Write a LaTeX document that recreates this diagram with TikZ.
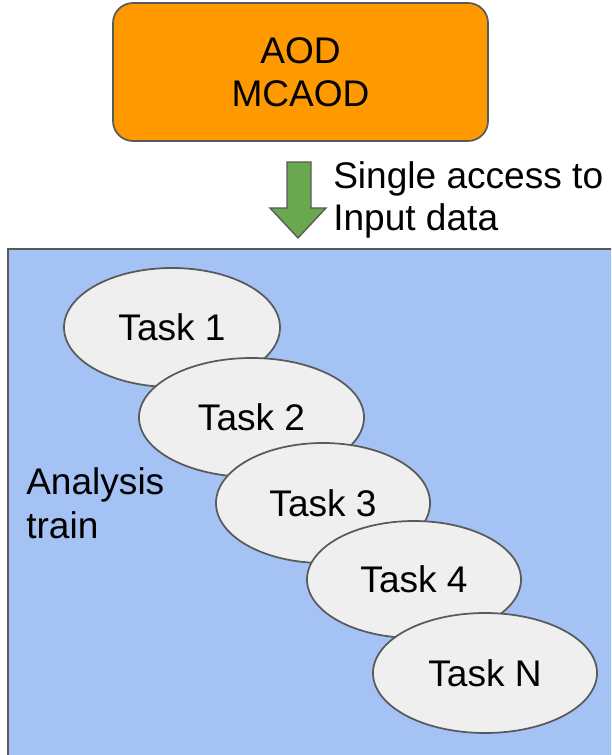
\documentclass[tikz,border=0pt]{standalone}
\usepackage{fontspec}
\setmainfont{Liberation Sans}
\usetikzlibrary{shapes.geometric}
\definecolor{srcfill}{HTML}{FF9900}
\definecolor{trainfill}{HTML}{A4C2F4}
\definecolor{taskfill}{HTML}{EFEFEF}
\definecolor{arrowfill}{HTML}{6AA84F}
\definecolor{edgegray}{HTML}{595959}
\begin{document}
\begin{tikzpicture}[x=0.75pt,y=-0.75pt,
  bigfont/.style={font=\fontsize{27.8}{32.5}\selectfont},
  outline/.style={draw=edgegray, line width=1.3pt},
  task/.style={ellipse, outline, fill=taskfill, inner sep=0pt, bigfont},
  srcbox/.style={rectangle, rounded corners=15pt, outline, fill=srcfill, inner sep=0pt, align=center, bigfont},
  plainlabel/.style={inner sep=0pt, align=left, bigfont, anchor=north west}]
\useasboundingbox (0,0) rectangle (611,755);
\clip (0,0) rectangle (611,755);
% analysis train area
\draw[outline, fill=trainfill] (8,249) rectangle (650,800);
% source box
\node[srcbox, minimum width=281.25pt, minimum height=103.5pt] (src) at (300.5,72) {AOD\\MCAOD};
% green arrow
\coordinate (arrtop) at (299,162);
\draw[outline, line width=1pt, fill=arrowfill]
  ([xshift=-9pt]arrtop) -- ([xshift=9pt]arrtop) -- ([xshift=9pt,yshift=-34.5pt]arrtop)
  -- ([xshift=20.25pt,yshift=-34.5pt]arrtop) -- ([xshift=-0.75pt,yshift=-57pt]arrtop)
  -- ([xshift=-21.75pt,yshift=-34.5pt]arrtop) -- ([xshift=-9pt,yshift=-34.5pt]arrtop) -- cycle;
\node[plainlabel, font=\fontsize{27.8}{31.5}\selectfont] (access) at (333,161) {Single access to\\Input data};
% label of train
\node[plainlabel, font=\fontsize{27.8}{33}\selectfont] (trainlabel) at (26,467) {Analysis\\train};
% tasks
\node[task, minimum width=162pt, minimum height=89.25pt] (t1) at (172,327.5) {Task 1};
\node[task, minimum width=168.75pt, minimum height=89.25pt] (t2) at (251.5,417.5) {Task 2};
\node[task, minimum width=160.5pt, minimum height=90pt] (t3) at (323,503) {Task 3};
\node[task, minimum width=160.5pt, minimum height=87.75pt] (t4) at (414,579.5) {Task 4};
\node[task, minimum width=168pt, minimum height=90pt] (tN) at (485,673) {Task N};
\end{tikzpicture}
\end{document}
